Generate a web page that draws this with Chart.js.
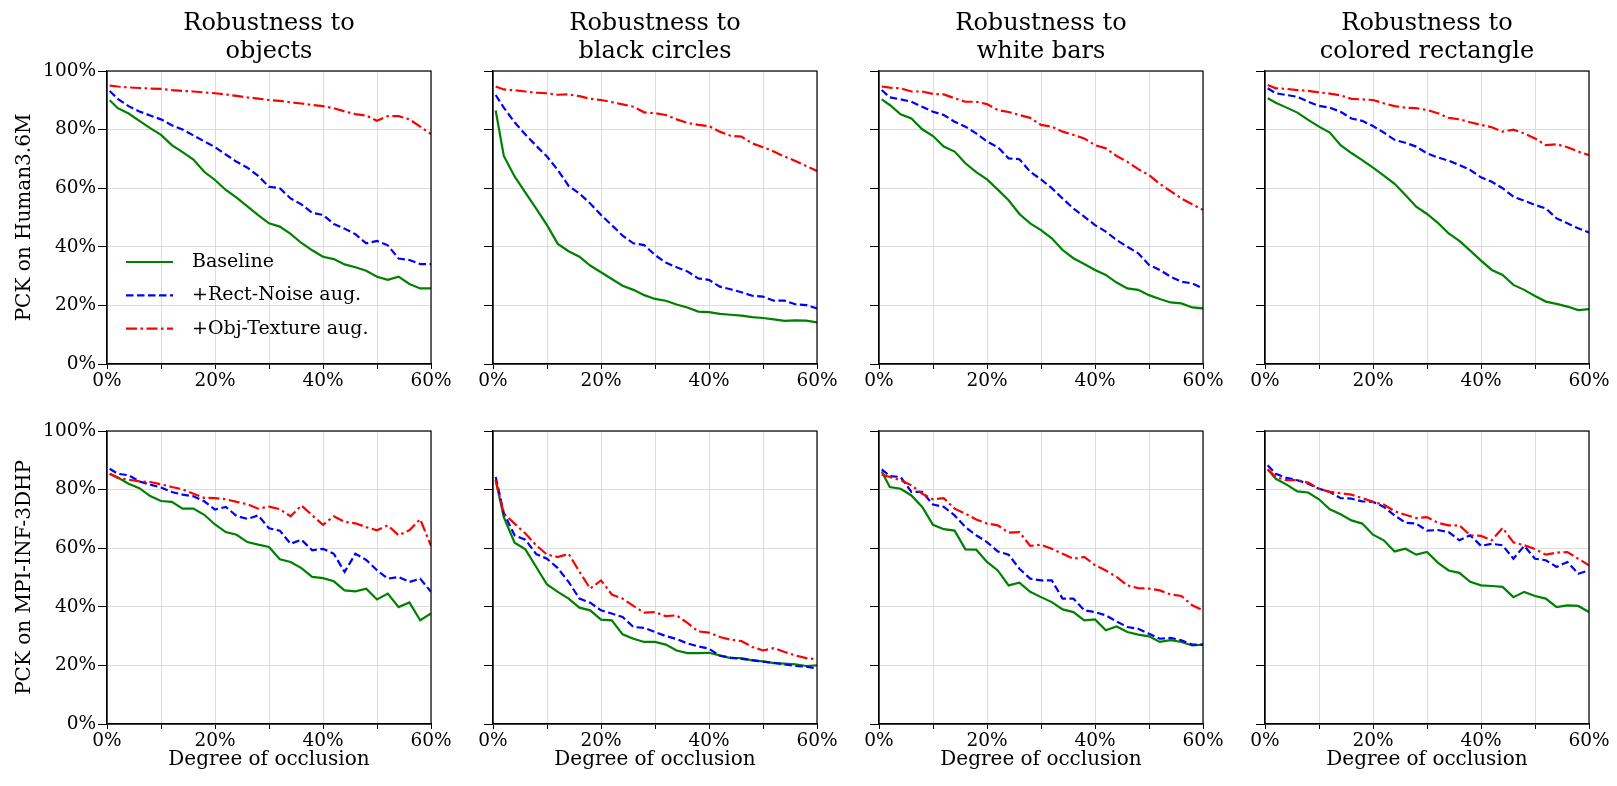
<!DOCTYPE html>
<html>
<head>
<meta charset="utf-8">
<script src="https://cdn.jsdelivr.net/npm/chart.js@4.4.1/dist/chart.umd.min.js"></script>
<style>
  html, body { margin: 0; padding: 0; background: #fff; }
  #wrap { position: relative; width: 1617px; height: 786px; overflow: hidden; }
  #wrap canvas { position: absolute; }
</style>
</head>
<body>
<div id="wrap"></div>
<script>
// degree of occlusion (%) at which the curves are read
const degrees = [0.5, 2, 4, 6, 8, 10, 12, 14, 16, 18, 20, 22, 24, 26, 28, 30, 32, 34, 36, 38, 40, 42, 44, 46, 48, 50, 52, 54, 56, 58, 60];

const colTitles = [
  ['Robustness to', 'objects'],
  ['Robustness to', 'black circles'],
  ['Robustness to', 'white bars'],
  ['Robustness to', 'colored rectangle']
];
const rowLabels = ['PCK on Human3.6M', 'PCK on MPI-INF-3DHP'];
const seriesNames = ['Baseline', '+Rect-Noise aug.', '+Obj-Texture aug.'];
const xTickLabels = [0, 20, 40, 60];

// Human3.6M
const h36mObjectsBase = [90, 87.3, 85.5, 83, 80.5, 78.2, 74.7, 72.3, 69.8, 65.6, 62.8, 59.4, 56.8, 53.8, 50.8, 48, 46.9, 44.4, 41.3, 38.8, 36.6, 35.8, 34, 33, 31.8, 29.8, 28.7, 29.8, 27.3, 25.8, 25.8];
const h36mObjectsRect = [93.2, 90.5, 88, 86.2, 84.8, 83.5, 81.5, 80, 78, 76, 74, 71.5, 69, 67, 64.2, 60.5, 60, 56.5, 54.5, 51.6, 50.9, 47.8, 46.2, 44.3, 41.2, 42, 40.5, 36, 35.5, 34.1, 34.1];
const h36mObjectsTex = [95, 94.7, 94.4, 94.2, 94, 93.9, 93.5, 93.2, 93, 92.7, 92.4, 92, 91.5, 91, 90.6, 90.1, 89.8, 89.3, 88.9, 88.4, 88, 87.3, 86.2, 85.3, 84.8, 83, 84.6, 84.6, 83.5, 81, 78.5];

const h36mCirclesBase = [86.5, 71, 64, 58.5, 53, 47.4, 41, 38.5, 36.6, 33.6, 31.3, 29, 26.7, 25.3, 23.5, 22.2, 21.6, 20.3, 19.3, 17.9, 17.7, 17.1, 16.8, 16.5, 16, 15.7, 15.2, 14.7, 14.9, 14.8, 14.2];
const h36mCirclesRect = [91.8, 87.5, 82.5, 78.3, 74.5, 70.8, 66.2, 60.8, 58.2, 54.8, 50.9, 47.4, 43.8, 41.2, 40.6, 37.2, 34.6, 33, 31.6, 29.2, 28.7, 26.4, 25.5, 24.5, 23.3, 23, 21.6, 21.6, 20.4, 20.1, 19];
const h36mCirclesTex = [94.7, 93.7, 93.4, 93, 92.6, 92.4, 91.9, 92, 91.4, 90.5, 90.1, 89.4, 88.6, 87.8, 85.9, 85.6, 85, 83.5, 82.3, 81.6, 81.2, 79.3, 77.9, 77.6, 75.3, 74, 72.5, 70.8, 69.3, 67.6, 65.9];

const h36mBarsBase = [90.3, 88.4, 85.2, 83.8, 80.1, 77.8, 74.2, 72.5, 68.5, 65.5, 63, 59.5, 55.9, 51.2, 48, 45.7, 42.9, 38.9, 36.1, 34.1, 32.1, 30.4, 27.8, 25.8, 25.3, 23.5, 22.2, 21, 20.7, 19.3, 19];
const h36mBarsRect = [93.5, 91, 90.3, 89.5, 87.8, 86.1, 85, 82.7, 81, 78.7, 75.9, 74, 70.2, 69.9, 65.6, 63, 60, 56.5, 53.1, 50.3, 47.4, 45.2, 42.3, 40, 37.8, 33.8, 32.1, 29.8, 28.1, 27.5, 25.8];
const h36mBarsTex = [94.7, 94.3, 94.1, 93, 93, 92.2, 92, 90.7, 89.5, 89.5, 88.7, 86.7, 86, 85, 84, 81.6, 81, 79.3, 78.2, 77, 74.7, 73.6, 71, 69, 66.5, 64.5, 61.5, 59, 56.5, 54.5, 52.6];

const h36mRectBase = [90.7, 89.2, 87.5, 85.8, 83.3, 81, 79, 74.7, 72, 69.6, 67, 64.3, 61.5, 57.7, 53.7, 51.2, 48.2, 44.6, 42, 38.7, 35.3, 32.1, 30.4, 27, 25.3, 23.2, 21.3, 20.5, 19.6, 18.4, 18.7];
const h36mRectRect = [94.1, 92.4, 91.8, 91.2, 89.5, 88.1, 87.5, 86.1, 83.8, 83, 81.2, 79, 76.5, 75.5, 74.2, 71.9, 70.5, 69.4, 67.9, 66.2, 63.7, 62.2, 60, 57.1, 55.7, 54.3, 53.1, 49.7, 48, 46.3, 44.9];
const h36mRectTex = [95.2, 94.1, 93.9, 93.5, 93.2, 92.7, 92.3, 91.7, 90.5, 90.3, 90.1, 89, 88, 87.5, 87.3, 86.7, 85.6, 84, 83.5, 82.5, 81.6, 80.8, 79.3, 80, 78.7, 77, 74.7, 75, 74, 72.5, 71.3];

// MPI-INF-3DHP
const mpiObjectsBase = [85.4, 84.1, 82, 80.5, 77.8, 76.1, 75.8, 73.5, 73.5, 71.4, 68.1, 65.5, 64.6, 62.1, 61.2, 60.4, 56.2, 55.3, 53.2, 50.2, 49.8, 48.7, 45.6, 45.3, 46.2, 42.5, 44.5, 39.9, 41.5, 35.4, 37.7];
const mpiObjectsRect = [87.1, 85.4, 84.9, 82.8, 81.7, 80.7, 79.2, 78.3, 77.7, 76, 73.2, 74.1, 71, 70, 71.2, 66.8, 66, 61.5, 62.9, 59.3, 59.8, 58.1, 51.9, 58.1, 56, 52.5, 49.6, 50.2, 48.5, 49.6, 45.1];
const mpiObjectsTex = [85.4, 84, 83.4, 82.8, 82.6, 81.8, 80.9, 80.1, 78.6, 77.2, 77.1, 76.7, 75.8, 75, 73.5, 74.2, 73.3, 70.9, 74.6, 71.2, 68, 70.9, 69, 68.5, 67.2, 66.1, 67.8, 64.4, 66.1, 69.9, 60.8];

const mpiCirclesBase = [83.2, 70.6, 61.9, 59.6, 53.6, 47.6, 45.1, 42.8, 39.7, 38.8, 35.6, 35.4, 30.6, 29.1, 28, 28, 27.1, 25.1, 24.2, 24.2, 24.3, 23.4, 22.5, 22.5, 21.7, 21.4, 20.8, 20.6, 20.4, 19.8, 20];
const mpiCirclesRect = [84.3, 72, 64.4, 62.9, 58, 56.4, 53.2, 48.5, 42.8, 41.4, 38.8, 37.7, 36.5, 33.1, 32.8, 31.4, 30, 29, 27.5, 26.5, 25.7, 23.3, 22.7, 22.2, 21.8, 21.3, 20.9, 20.3, 19.8, 19.6, 18.9];
const mpiCirclesTex = [83.2, 71.8, 68.4, 65, 61, 57.8, 57, 58.1, 52, 46.2, 49, 44.2, 42.8, 40.3, 38, 38.2, 36.8, 37.1, 34.5, 31.6, 31.2, 29.7, 28.8, 28.3, 26.3, 25.1, 25.9, 24.6, 23.4, 22.5, 22.1];

const mpiBarsBase = [86.2, 80.9, 80.3, 78, 74.1, 68, 66.5, 66, 59.6, 59.5, 55.3, 52.4, 47.3, 48.2, 45.1, 43.3, 41.6, 39.1, 38.2, 35.4, 35.7, 32, 33.3, 31.4, 30.5, 29.9, 28, 28.6, 28, 26.8, 27.1];
const mpiBarsRect = [86.9, 84.6, 84.3, 79.2, 79.2, 74.9, 74.1, 71.2, 67.2, 64.4, 62.1, 58.9, 57.8, 53, 49.6, 49, 49, 42.8, 42.8, 38.8, 38.2, 37.1, 35, 33.1, 32.5, 30.8, 29.1, 29.4, 28.6, 27.1, 27.1];
const mpiBarsTex = [85.1, 84.3, 83.2, 81.5, 78.6, 76.7, 77.1, 73.5, 71.8, 69.8, 68.4, 67.8, 65.3, 65.5, 60.8, 61.2, 59.8, 58.1, 56.4, 57, 54.2, 52.4, 50.2, 47.3, 46.4, 46.2, 45.6, 44.2, 43.7, 40.5, 38.8];

const mpiRectBase = [86.9, 83.7, 81.7, 79.4, 79, 76.7, 73.3, 71.6, 69.5, 68.4, 64.6, 62.7, 58.9, 59.8, 57.8, 58.7, 55.1, 52.4, 51.6, 48.5, 47.3, 47.1, 46.8, 43.3, 45.1, 43.7, 42.8, 39.9, 40.5, 40.3, 38.2];
const mpiRectRect = [88.3, 85.4, 84, 83.2, 82, 80.3, 79.2, 77.1, 76.9, 76, 75.8, 74.1, 71.2, 68.7, 68.4, 66, 66.2, 65.5, 62.7, 64.4, 60.8, 61.5, 61, 56.4, 60.8, 56.4, 55.9, 53.6, 55.3, 51.3, 52.4];
const mpiRectTex = [86.9, 84.3, 83.2, 83.2, 82.4, 80.3, 79.2, 78.8, 78.3, 77.1, 75.8, 74.9, 72.6, 71.4, 70.3, 70.6, 68.7, 67.8, 67.8, 64.4, 64.2, 62.7, 66.9, 62, 61, 59.7, 57.8, 58.5, 58.7, 56.4, 54.2];

const panelSeries = [
  [h36mObjectsBase, h36mObjectsRect, h36mObjectsTex],
  [h36mCirclesBase, h36mCirclesRect, h36mCirclesTex],
  [h36mBarsBase, h36mBarsRect, h36mBarsTex],
  [h36mRectBase, h36mRectRect, h36mRectTex],
  [mpiObjectsBase, mpiObjectsRect, mpiObjectsTex],
  [mpiCirclesBase, mpiCirclesRect, mpiCirclesTex],
  [mpiBarsBase, mpiBarsRect, mpiBarsTex],
  [mpiRectBase, mpiRectRect, mpiRectTex]
];

const FONT = 'DejaVu Serif';
Chart.defaults.font.family = FONT;
Chart.defaults.color = '#000';

const lineStyles = [
  { color: '#008000', dash: [], order: 3 },
  { color: '#0000ff', dash: [7.5, 3.5], order: 2 },
  { color: '#ff0000', dash: [11, 3.5, 2.5, 3.5], order: 1 }
];

// layout of the 2x4 grid
const colLeft = [107, 493, 879, 1265];
const plotW = 324;
const rows = [
  { top: 0, height: 394, padTop: 0, xHeight: 30 },
  { top: 411, height: 375, padTop: 20, xHeight: 62 }
];

// axes box (matplotlib spines on all four sides)
const frame = {
  id: 'frame',
  afterDatasetsDraw(chart) {
    const { ctx, chartArea: a } = chart;
    ctx.save();
    ctx.strokeStyle = '#000';
    ctx.lineWidth = 1.2;
    ctx.strokeRect(a.left, a.top, a.right - a.left, a.bottom - a.top);
    ctx.restore();
  }
};

// legend sitting inside the first panel
const insetLegend = {
  id: 'insetLegend',
  afterDraw(chart) {
    const { ctx, chartArea: a } = chart;
    chart.data.datasets.forEach((ds, i) => {
      const y = a.top + 191 + i * 33.3;
      ctx.save();
      ctx.strokeStyle = ds.borderColor;
      ctx.lineWidth = ds.borderWidth;
      ctx.setLineDash(ds.borderDash);
      ctx.beginPath();
      ctx.moveTo(a.left + 19, y);
      ctx.lineTo(a.left + 66, y);
      ctx.stroke();
      ctx.setLineDash([]);
      ctx.fillStyle = '#000';
      ctx.font = '19px "' + FONT + '"';
      ctx.textBaseline = 'middle';
      ctx.fillText(ds.label, a.left + 85, y);
      ctx.restore();
    });
  }
};

const wrap = document.getElementById('wrap');

panelSeries.forEach((series, p) => {
  const r = p < 4 ? 0 : 1;
  const c = p % 4;
  const row = rows[r];
  const first = c === 0;
  const yWidth = first ? colLeft[0] : 12;
  const padLeft = first ? 0 : 20;
  const left = colLeft[c] - yWidth - padLeft;
  const width = padLeft + yWidth + plotW + 24;

  const canvas = document.createElement('canvas');
  canvas.width = width;
  canvas.height = row.height;
  canvas.style.left = left + 'px';
  canvas.style.top = row.top + 'px';
  wrap.appendChild(canvas);

  const datasets = series.map((vals, i) => ({
    label: seriesNames[i],
    data: degrees.map((d, k) => ({ x: d, y: vals[k] })),
    borderColor: lineStyles[i].color,
    borderDash: lineStyles[i].dash,
    borderWidth: 2.2,
    pointRadius: 0,
    tension: 0,
    fill: false,
    order: lineStyles[i].order
  }));

  new Chart(canvas, {
    type: 'line',
    data: { datasets },
    options: {
      responsive: false,
      animation: false,
      layout: { padding: { top: row.padTop, left: padLeft, right: 24, bottom: 0 } },
      plugins: {
        legend: { display: false },
        tooltip: { enabled: false },
        title: {
          display: r === 0,
          text: colTitles[c],
          fullSize: false,
          font: { family: FONT, size: 24, weight: 'normal', lineHeight: 1.2 },
          padding: { top: 9, bottom: 4.4 }
        }
      },
      scales: {
        x: {
          type: 'linear',
          min: 0,
          max: 60,
          afterFit: (s) => { s.height = row.xHeight; },
          ticks: {
            stepSize: 10,
            padding: 1,
            maxRotation: 0,
            autoSkip: false,
            font: { family: FONT, size: 18.5 },
            callback: (v) => xTickLabels.includes(v) ? v + '%' : ''
          },
          grid: { color: '#dcdcdc', lineWidth: 1, tickColor: '#000', tickLength: 5 },
          border: { color: '#000', width: 1.2 },
          title: {
            display: r === 1,
            text: 'Degree of occlusion',
            font: { family: FONT, size: 20 },
            padding: { top: 0, bottom: 14 }
          }
        },
        y: {
          min: 0,
          max: 100,
          afterFit: (s) => { s.width = yWidth; },
          ticks: {
            stepSize: 20,
            padding: 2,
            display: first,
            font: { family: FONT, size: 18.5 },
            callback: (v) => v + '%'
          },
          grid: { color: '#dcdcdc', lineWidth: 1, tickColor: '#000', tickLength: 9 },
          border: { color: '#000', width: 1.2 },
          title: {
            display: first,
            text: rowLabels[r],
            font: { family: FONT, size: 20 },
            padding: { top: 12.5, bottom: 0 }
          }
        }
      }
    },
    plugins: p === 0 ? [frame, insetLegend] : [frame]
  });
});
</script>
</body>
</html>
